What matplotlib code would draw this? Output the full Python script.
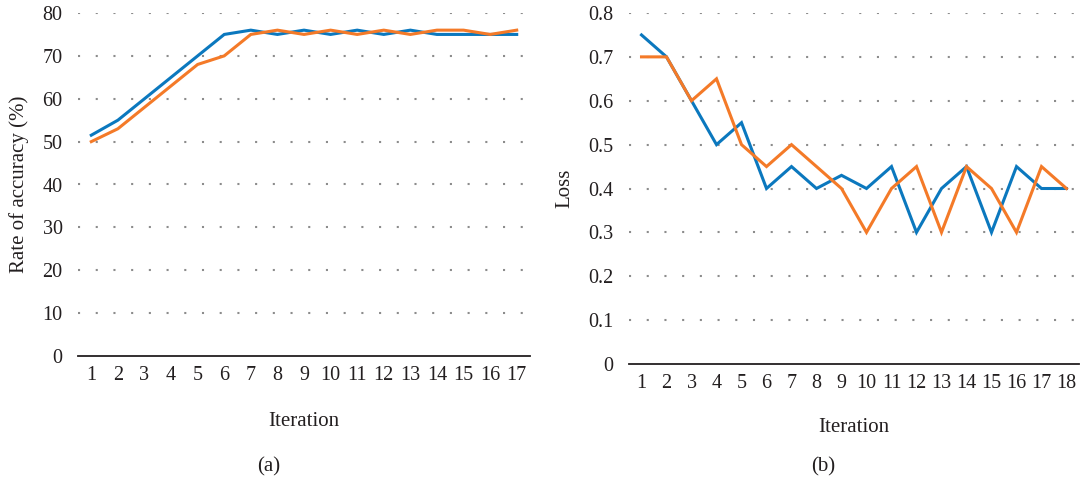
import matplotlib
matplotlib.use("Agg")
import matplotlib.pyplot as plt
import numpy as np

# Panel (a): accuracy
iter_a = [str(i) for i in range(1, 18)]
acc_blue = [51.5, 55, 60, 65, 70, 75, 76, 75, 76, 75, 76, 75, 76, 75, 75, 75, 75]
acc_orange = [50, 53, 58, 63, 68, 70, 75, 76, 75, 76, 75, 76, 75, 76, 76, 75, 76]
yticks_a = [0, 10, 20, 30, 40, 50, 60, 70, 80]

# Panel (b): loss
iter_b = [str(i) for i in range(1, 19)]
loss_blue = [0.75, 0.70, 0.60, 0.50, 0.55, 0.40, 0.45, 0.40, 0.43, 0.40, 0.45, 0.30, 0.40, 0.45, 0.30, 0.45, 0.40, 0.40]
loss_orange = [0.70, 0.70, 0.60, 0.65, 0.50, 0.45, 0.50, 0.45, 0.40, 0.30, 0.40, 0.45, 0.30, 0.45, 0.40, 0.30, 0.45, 0.40]
yticks_b = [0, 0.1, 0.2, 0.3, 0.4, 0.5, 0.6, 0.7, 0.8]
yticklabels_b = ["0", "0.1", "0.2", "0.3", "0.4", "0.5", "0.6", "0.7", "0.8"]

BLUE = "#0B78BE"
ORANGE = "#F47A28"
TXT = "#231F20"

plt.rcParams['font.family'] = ['Liberation Serif', 'DejaVu Serif']

W, H = 1083, 479
fig = plt.figure(figsize=(W / 100, H / 100), dpi=100)

def make_ax(left, right, top, bottom):
    return fig.add_axes([left / W, 1 - bottom / H, (right - left) / W, (bottom - top) / H])

ax1 = make_ax(78, 530, 13, 356)
ax2 = make_ax(629, 1079, 13, 364)

def style(ax, cats, yticks, ylim, ylabels=None):
    n = len(cats)
    ax.set_xlim(-0.5, n - 0.5)
    ax.set_ylim(*ylim)
    ax.set_xticks(range(n))
    ax.set_xticklabels(cats)
    ax.set_yticks(yticks)
    if ylabels is not None:
        ax.set_yticklabels(ylabels)
    for s in ["top", "right", "left"]:
        ax.spines[s].set_visible(False)
    ax.spines["bottom"].set_color(TXT)
    ax.spines["bottom"].set_linewidth(1.3)
    ax.tick_params(axis="both", length=0, labelsize=14.5, colors=TXT)
    ax.tick_params(axis="x", pad=7)
    ax.tick_params(axis="y", pad=11)
    ax.yaxis.grid(True, color="#8C8C8C", linestyle=(0, (1, 7.5)), linewidth=1.5)
    ax.set_axisbelow(True)
    for g in ax.yaxis.get_gridlines()[:1]:
        g.set_visible(False)

x_a = np.arange(len(iter_a))
ax1.plot(x_a, acc_blue, color=BLUE, lw=2.2, solid_joinstyle="miter")
ax1.plot(x_a, acc_orange, color=ORANGE, lw=2.2, solid_joinstyle="miter")
style(ax1, iter_a, yticks_a, (0, 80))
ax1.set_ylabel("Rate of accuracy (%)", fontsize=15, color=TXT, labelpad=10)
ax1.set_xlabel("Iteration", fontsize=15, color=TXT, labelpad=20)

x_b = np.arange(len(iter_b))
ax2.plot(x_b, loss_blue, color=BLUE, lw=2.2, solid_joinstyle="miter")
ax2.plot(x_b, loss_orange, color=ORANGE, lw=2.2, solid_joinstyle="miter")
style(ax2, iter_b, yticks_b, (0, 0.8), yticklabels_b)
ax2.set_ylabel("Loss", fontsize=15, color=TXT, labelpad=10)
ax2.set_xlabel("Iteration", fontsize=15, color=TXT, labelpad=18)

fig.text(269 / W, 1 - 467 / H, "(a)", ha="center", va="center", fontsize=15, color=TXT)
fig.text(823 / W, 1 - 467 / H, "(b)", ha="center", va="center", fontsize=15, color=TXT)

fig.savefig("out.png", dpi=100)
